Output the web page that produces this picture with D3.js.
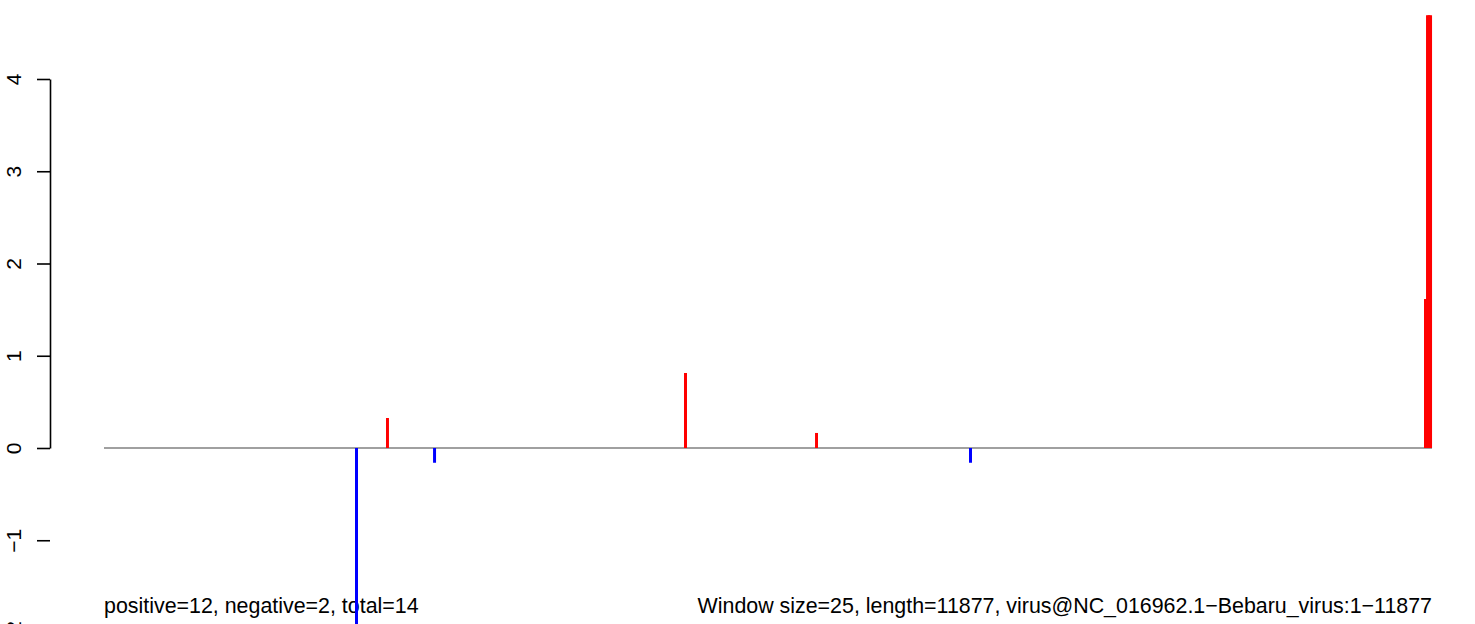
<!DOCTYPE html>
<html>
<head>
<meta charset="utf-8">
<script src="https://cdn.jsdelivr.net/npm/d3@7"></script>
<style>
  html, body { margin: 0; padding: 0; background: #fff; }
  svg { display: block; font-family: "Liberation Sans", Arial, sans-serif; }
</style>
</head>
<body>
<script>
// ---- data ----
const seqLength = 11877;
const positions = [2259, 2536, 2957, 5201, 6373, 7750, 11819, 11837, 11850, 11864];
const scores    = [-1.95, 0.325, -0.16, 0.813, 0.163, -0.16, 1.615, 4.69, 4.69, 4.69];
const yTicks = [-2, -1, 0, 1, 2, 3, 4];
const yTickLabels = ["\u22122", "\u22121", "0", "1", "2", "3", "4"];
const leftNote = "positive=12, negative=2, total=14";
const rightNote = "Window size=25, length=11877, virus@NC_016962.1\u2212Bebaru_virus:1\u221211877";

// ---- layout ----
const W = 1475, H = 624;
const svg = d3.select("body").append("svg").attr("width", W).attr("height", H);

const x = d3.scaleLinear().domain([1, seqLength]).range([104, 1432]);
const y = d3.scaleLinear().domain([0, 4]).range([448, 79]);

// zero baseline
svg.append("line")
  .attr("x1", x(1)).attr("x2", x(seqLength))
  .attr("y1", y(0)).attr("y2", y(0))
  .attr("stroke", "#808080").attr("stroke-width", 1.5);

// bars (type = "h")
const data = positions.map((p, i) => ({ p, v: scores[i] }));
svg.append("g").selectAll("line").data(data).join("line")
  .attr("x1", d => x(d.p)).attr("x2", d => x(d.p))
  .attr("y1", y(0)).attr("y2", d => y(d.v))
  .attr("stroke", d => d.v >= 0 ? "#FF0000" : "#0000FF")
  .attr("stroke-width", 3);

// y axis
const axisX = 50;
const yAxis = d3.axisLeft(y).tickValues(yTicks)
  .tickFormat((d, i) => yTickLabels[i]).tickSize(13).tickSizeOuter(0).tickPadding(0);
const ag = svg.append("g").attr("transform", `translate(${axisX},0)`).call(yAxis);
ag.select(".domain").attr("stroke", "#000").attr("stroke-width", 1.6);
ag.selectAll(".tick line").attr("stroke", "#000").attr("stroke-width", 1.6);
ag.selectAll(".tick text")
  .attr("x", null).attr("dy", null)
  .attr("transform", "translate(-29,0) rotate(-90)")
  .attr("text-anchor", "middle")
  .attr("fill", "#000")
  .style("font-size", "21px")
  .style("font-family", "Liberation Sans, Arial, sans-serif");

// notes
svg.append("text").attr("x", 104).attr("y", 613)
  .attr("text-anchor", "start").style("font-size", "21.4px").attr("fill", "#000")
  .text(leftNote);
svg.append("text").attr("x", 1432).attr("y", 613)
  .attr("text-anchor", "end").style("font-size", "21.4px").attr("fill", "#000")
  .text(rightNote);

// redraw the big blue bar on top of text like the reference
svg.append("g").selectAll("line").data(data.filter(d => d.v < -1)).join("line")
  .attr("x1", d => x(d.p)).attr("x2", d => x(d.p))
  .attr("y1", y(0)).attr("y2", d => y(d.v))
  .attr("stroke", "#0000FF").attr("stroke-width", 3);
</script>
</body>
</html>
